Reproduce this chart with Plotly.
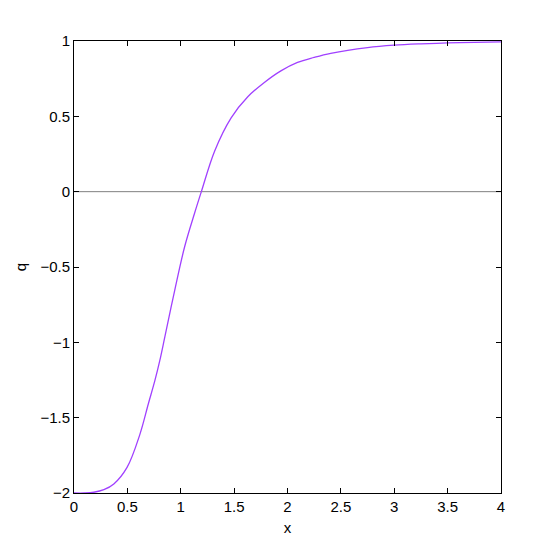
import plotly.graph_objects as go

# valores
x_vals = [0.0, 0.1, 0.186, 0.28, 0.373, 0.497, 0.618, 0.696, 0.758,
          0.804, 0.851, 0.944, 1.037, 1.13, 1.193, 1.317, 1.472, 1.628,
          1.783, 1.938, 2.094, 2.249, 2.405, 2.75, 3.0, 3.25, 3.5, 3.75, 4.0]
q_vals = [-2.0, -2.0, -1.995, -1.978, -1.94, -1.83, -1.609, -1.409,
          -1.253, -1.12, -0.964, -0.653, -0.364, -0.142, 0.0, 0.269, 0.49,
          0.63, 0.725, 0.802, 0.858, 0.891, 0.918, 0.956, 0.972, 0.981,
          0.987, 0.991, 0.994]

x_ticks = [0, 0.5, 1, 1.5, 2, 2.5, 3, 3.5, 4]
y_ticks = [-2, -1.5, -1, -0.5, 0, 0.5, 1]
y_ticktext = ["\u22122", "\u22121.5", "\u22121", "\u22120.5", "0", "0.5", "1"]

FONT = "Liberation Sans Narrow, Liberation Sans, Arial, sans-serif"

fig = go.Figure()
# línea horizontal en q = 0
fig.add_trace(go.Scatter(
    x=[0, 4], y=[0, 0], mode="lines",
    line=dict(color="#808080", width=1), hoverinfo="skip",
))
fig.add_trace(go.Scatter(
    x=x_vals, y=q_vals, mode="lines",
    line=dict(color="#a040ff", width=1.3, shape="spline", smoothing=1.0),
))

axis_common = dict(
    showgrid=False, zeroline=False,
    showline=True, linecolor="black", linewidth=1, mirror="ticks",
    ticks="inside", ticklen=5, tickcolor="black", tickwidth=1,
    tickfont=dict(family=FONT, size=15, color="black"),
)

fig.update_layout(
    width=554, height=554,
    plot_bgcolor="white", paper_bgcolor="white",
    showlegend=False,
    margin=dict(l=64, r=61, t=33, b=69),
    xaxis=dict(range=[0, 4], tickvals=x_ticks,
               title=dict(text="x", font=dict(family=FONT, size=15, color="black"), standoff=8),
               **axis_common),
    yaxis=dict(range=[-2, 1], tickvals=y_ticks, ticktext=y_ticktext,
               title=dict(text="q", font=dict(family=FONT, size=15, color="black"), standoff=10),
               **axis_common),
)

fig.write_html("out.html")
